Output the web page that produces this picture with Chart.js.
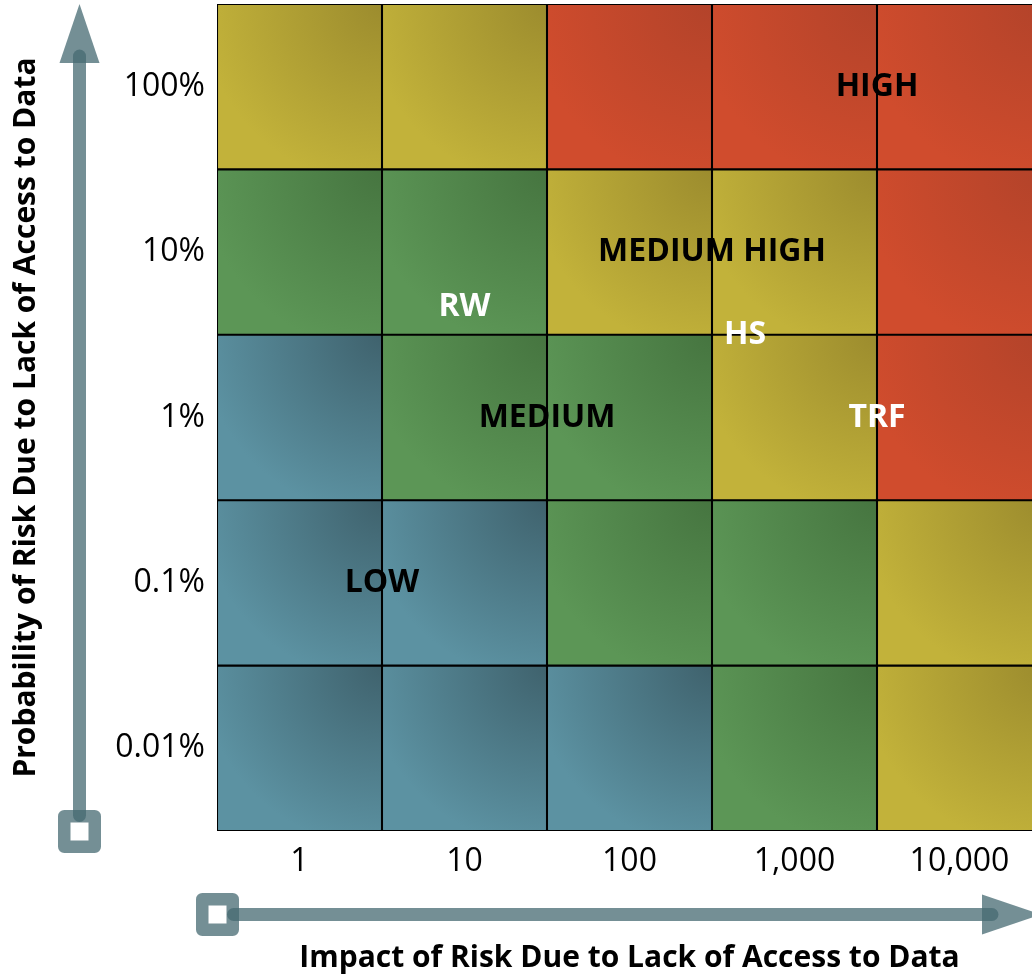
<!DOCTYPE html>
<html lang="en">
<head>
    <meta charset="UTF-8">
    <title>Risk Matrix - Lack of Access to Data</title>
    <script src="https://cdn.jsdelivr.net/npm/chart.js"></script>
    <style>
        html, body { margin: 0; padding: 0; background: #fff; overflow: hidden; }
        #wrap { width: 1044px; height: 976px; }
    </style>
</head>
<body>
    <div id="wrap"><canvas id="matriz" width="1044" height="976"></canvas></div>

    <script>
        // eixos
        const impactLabels = ['1', '10', '100', '1,000', '10,000'];
        const probabilityLabels = ['0.01%', '0.1%', '1%', '10%', '100%']; // de baixo para cima

        // nivel de risco de cada celula, uma lista por linha (de baixo para cima)
        const row001 = ['low', 'low', 'low', 'medium', 'mediumHigh'];
        const row01 = ['low', 'low', 'medium', 'medium', 'mediumHigh'];
        const row1 = ['low', 'medium', 'medium', 'mediumHigh', 'high'];
        const row10 = ['medium', 'medium', 'mediumHigh', 'mediumHigh', 'high'];
        const row100 = ['mediumHigh', 'mediumHigh', 'high', 'high', 'high'];
        const riskRows = [row001, row01, row1, row10, row100];

        // rotulos das zonas (posicao em unidades das escalas)
        const zoneNames = ['HIGH', 'MEDIUM HIGH', 'MEDIUM', 'LOW'];
        const zoneX = [3.5, 2.5, 1.5, 0.5];
        const zoneY = [4.5, 3.5, 2.5, 1.5];

        // itens avaliados
        const itemNames = ['RW', 'HS', 'TRF'];
        const itemX = [1.0, 2.7, 3.5];
        const itemY = [3.17, 3.0, 2.5];

        const cores = {
            low: ['#5c92a2', '#3f626d'],
            medium: ['#5c9656', '#467540'],
            mediumHigh: ['#c2b23a', '#9c8c2e'],
            high: ['#d04c2d', '#b3432a']
        };

        function corCelula(ctx) {
            const nivel = riskRows[ctx.datasetIndex][ctx.dataIndex];
            const chart = ctx.chart;
            const sx = chart.scales.x, sy = chart.scales.y;
            if (!chart.chartArea || !sx || !sy) return cores[nivel][0];
            const i = ctx.dataIndex, r = ctx.datasetIndex;
            const left = sx.getPixelForValue(i - 0.5);
            const right = sx.getPixelForValue(i + 0.5);
            const top = sy.getPixelForValue(r + 1);
            const w = right - left;
            if (!isFinite(left) || !isFinite(top) || w <= 0) return cores[nivel][0];
            const g = chart.ctx.createRadialGradient(right, top, 0, right, top, w * 1.1);
            g.addColorStop(0, cores[nivel][1]);
            g.addColorStop(1, cores[nivel][0]);
            return g;
        }

        const datasets = riskRows.map((linha, r) => ({
            label: probabilityLabels[r],
            data: linha.map(() => [r, r + 1]),
            backgroundColor: corCelula,
            borderColor: '#000',
            borderWidth: 1.4,
            borderSkipped: false,
            grouped: false,
            barPercentage: 1,
            categoryPercentage: 1
        }));

        // desenha os rotulos e as setas
        const decoracao = {
            id: 'decoracao',
            afterDatasetsDraw(chart) {
                const ctx = chart.ctx;
                const sx = chart.scales.x, sy = chart.scales.y;
                ctx.save();
                ctx.textAlign = 'center';
                ctx.textBaseline = 'middle';
                ctx.font = 'bold 32px "Open Sans"';
                ctx.fillStyle = '#000';
                zoneNames.forEach((t, k) => {
                    ctx.fillText(t, sx.getPixelForValue(zoneX[k]), sy.getPixelForValue(zoneY[k]));
                });
                ctx.fillStyle = '#fff';
                itemNames.forEach((t, k) => {
                    ctx.fillText(t, sx.getPixelForValue(itemX[k]), sy.getPixelForValue(itemY[k]));
                });
                ctx.restore();
            },
            afterDraw(chart) {
                const ctx = chart.ctx;
                const a = chart.chartArea;
                const cor = 'rgba(70, 105, 113, 0.75)';
                ctx.save();
                ctx.lineCap = 'round';
                ctx.lineJoin = 'round';

                // seta vertical
                const vx = 79.5;
                ctx.strokeStyle = cor;
                ctx.lineWidth = 13;
                ctx.beginPath();
                ctx.moveTo(vx, a.bottom - 15.5);
                ctx.lineTo(vx, a.top + 52);
                ctx.stroke();
                ctx.fillStyle = cor;
                ctx.beginPath();
                ctx.moveTo(vx, a.top);
                ctx.lineTo(vx - 20, a.top + 59);
                ctx.lineTo(vx + 20, a.top + 59);
                ctx.closePath();
                ctx.fill();
                ctx.lineWidth = 12.5;
                ctx.strokeRect(vx - 15.25, a.bottom + 0.5 - 15.25, 30.5, 30.5);

                // seta horizontal
                const hy = 914.5;
                ctx.lineWidth = 13;
                ctx.beginPath();
                ctx.moveTo(a.left + 16.5, hy);
                ctx.lineTo(992, hy);
                ctx.stroke();
                ctx.beginPath();
                ctx.moveTo(1041, hy);
                ctx.lineTo(982, hy - 20);
                ctx.lineTo(982, hy + 20);
                ctx.closePath();
                ctx.fill();
                ctx.lineWidth = 12.5;
                ctx.strokeRect(a.left + 0.5 - 15.25, hy - 15.25, 30.5, 30.5);
                ctx.restore();
            }
        };

        new Chart(document.getElementById('matriz'), {
            type: 'bar',
            data: { labels: impactLabels, datasets: datasets },
            plugins: [decoracao],
            options: {
                responsive: false,
                animation: false,
                events: [],
                layout: { padding: { top: 4, right: 2, left: 0, bottom: 0 } },
                plugins: { legend: { display: false }, tooltip: { enabled: false } },
                scales: {
                    x: {
                        grid: { display: false, drawTicks: false },
                        border: { display: false },
                        ticks: { color: '#000', padding: 12, font: { family: 'Open Sans', size: 32 } },
                        title: {
                            display: true,
                            text: 'Impact of Risk Due to Lack of Access to Data',
                            color: '#000',
                            font: { family: 'Open Sans', size: 30, weight: 'bold' },
                            padding: { top: 0, bottom: 0 }
                        },
                        afterFit(axis) {
                            axis.height = 145;
                            axis.paddingLeft = 0;
                            axis.paddingRight = 0;
                        }
                    },
                    y: {
                        min: 0,
                        max: 5,
                        grid: { display: false, drawTicks: false },
                        border: { display: false },
                        afterBuildTicks(axis) {
                            axis.ticks = probabilityLabels.map((l, i) => ({ value: i + 0.5 }));
                        },
                        ticks: {
                            color: '#000',
                            padding: 12,
                            font: { family: 'Open Sans', size: 32 },
                            callback: (v, i) => probabilityLabels[i]
                        },
                        title: {
                            display: true,
                            text: 'Probability of Risk Due to Lack of Access to Data',
                            color: '#000',
                            font: { family: 'Open Sans', size: 30, weight: 'bold' },
                            padding: { top: 8, bottom: 0 }
                        },
                        afterFit(axis) {
                            axis.width = 217;
                            axis.paddingTop = 0;
                            axis.paddingBottom = 0;
                        }
                    }
                }
            }
        });
    </script>
</body>
</html>
